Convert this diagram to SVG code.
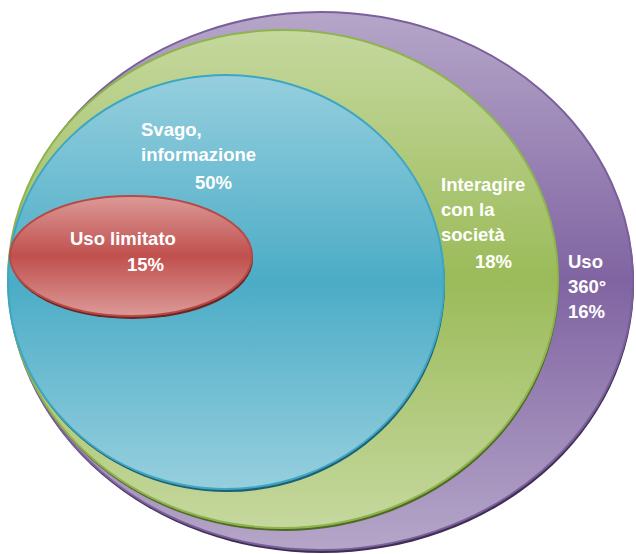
<svg xmlns="http://www.w3.org/2000/svg" width="636" height="554" viewBox="0 0 636 554">
<style>
text{font-family:"Liberation Sans","Open Sans",sans-serif;font-weight:bold;font-size:18.5px;fill:#ffffff}
</style>
<defs>
<linearGradient id="gP" x1="0" y1="0" x2="0" y2="1"><stop offset="0" stop-color="#b5a6c9"/><stop offset="0.5" stop-color="#8064a2"/><stop offset="1" stop-color="#b5a6c9"/></linearGradient>
<linearGradient id="gG" x1="0" y1="0" x2="0" y2="1"><stop offset="0" stop-color="#c5d89e"/><stop offset="0.5" stop-color="#9bbb59"/><stop offset="1" stop-color="#c5d89e"/></linearGradient>
<linearGradient id="gB" x1="0" y1="0" x2="0" y2="1"><stop offset="0" stop-color="#96cfde"/><stop offset="0.5" stop-color="#4bacc6"/><stop offset="1" stop-color="#96cfde"/></linearGradient>
<linearGradient id="gR" x1="0" y1="0" x2="0" y2="1"><stop offset="0" stop-color="#dc9a98"/><stop offset="0.5" stop-color="#c0504d"/><stop offset="1" stop-color="#dc9a98"/></linearGradient>
</defs>
<g id="uso360">
<ellipse cx="322" cy="284" rx="312" ry="269" fill="#3f2f55"/>
<ellipse cx="321" cy="281" rx="312" ry="269" fill="url(#gP)" stroke="#7a5f9b" stroke-width="2"/>
<text x="568" y="268">Uso</text><text x="568" y="293">360°</text><text x="568" y="318">16%</text>
</g>
<g id="interagire">
<ellipse cx="284" cy="282" rx="275" ry="249" fill="#4f6a22"/>
<ellipse cx="283" cy="279" rx="275" ry="249" fill="url(#gG)" stroke="#8fb34e" stroke-width="2"/>
<text x="441" y="191">Interagire</text><text x="441" y="216">con la</text><text x="441" y="241">società</text><text x="475" y="268">18%</text>
</g>
<g id="svago">
<ellipse cx="227" cy="285" rx="218" ry="207" fill="#1f5f73"/>
<ellipse cx="226" cy="282" rx="218" ry="207" fill="url(#gB)" stroke="#3ea6c2" stroke-width="2"/>
<text x="141" y="136">Svago,</text><text x="141" y="161">informazione</text><text x="195" y="189">50%</text>
</g>
<g id="limitato">
<ellipse cx="132" cy="259" rx="121" ry="60" fill="#6e2523"/>
<ellipse cx="131" cy="256" rx="121" ry="60" fill="url(#gR)" stroke="#b64a47" stroke-width="2"/>
<text x="70" y="245">Uso limitato</text><text x="127" y="271">15%</text>
</g>
<g id="connectors"/>
</svg>
